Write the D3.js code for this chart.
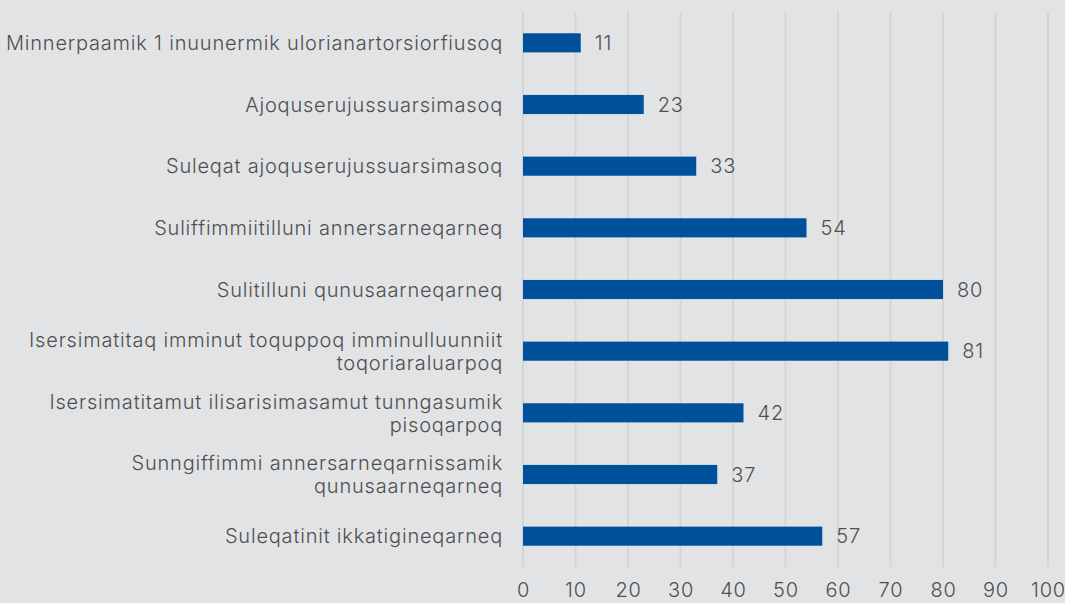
<!DOCTYPE html>
<html lang="kl">
<head>
<meta charset="UTF-8">
<title>Bar Chart</title>
<script src="https://cdn.jsdelivr.net/npm/d3@7"></script>
<style>
  html, body { margin: 0; padding: 0; background: #e2e3e5; }
  svg { display: block; }
  text { font-family: Inter, "Noto Sans", sans-serif; font-size: 20px; font-weight: 300; letter-spacing: 0.8px; fill: #4f4f4f; }
  .grid line { stroke: #d4d5d7; stroke-width: 2; }
  .bar { fill: #00519c; }
</style>
</head>
<body>
<svg id="chart"></svg>
<script>
// categories (each entry is a list of label lines)
const categories = [
  ['Minnerpaamik 1 inuunermik ulorianartorsiorfiusoq'],
  ['Ajoquserujussuarsimasoq'],
  ['Suleqat ajoquserujussuarsimasoq'],
  ['Suliffimmiitilluni annersarneqarneq'],
  ['Sulitilluni qunusaarneqarneq'],
  ['Isersimatitaq imminut toquppoq imminulluunniit', 'toqoriaraluarpoq'],
  ['Isersimatitamut ilisarisimasamut tunngasumik', 'pisoqarpoq'],
  ['Sunngiffimmi annersarneqarnissamik', 'qunusaarneqarneq'],
  ['Suleqatinit ikkatigineqarneq']
]
const values = [11, 23, 33, 54, 80, 81, 42, 37, 57]
const ticks = [0, 10, 20, 30, 40, 50, 60, 70, 80, 90, 100]

const W = 1065, H = 603
const margin = { top: 12, right: 17, bottom: 36, left: 523 }

const svg = d3.select('#chart').attr('width', W).attr('height', H)
const chart = svg.append('g').attr('transform', `translate(${margin.left}, ${margin.top})`)

const WIDTH = W - margin.left - margin.right
const HEIGHT = H - margin.top - margin.bottom

const keys = categories.map((c, i) => i)

const xScale = d3.scaleLinear().domain([0, 100]).range([0, WIDTH])
const yScale = d3.scaleBand().domain(keys).range([0, HEIGHT]).paddingInner(0.69).paddingOuter(0.345)

// grid
const grid = chart.append('g').attr('class', 'grid')
grid.selectAll('line')
  .data(ticks)
  .enter()
  .append('line')
  .attr('x1', d => xScale(d))
  .attr('x2', d => xScale(d))
  .attr('y1', 0)
  .attr('y2', HEIGHT)

// x axis labels
const xAxis = d3.axisBottom(xScale).tickValues(ticks).tickSize(0).tickPadding(16)
const xAxisGroup = chart.append('g')
  .attr('transform', `translate(0, ${HEIGHT})`)
  .call(xAxis)
xAxisGroup.select('.domain').remove()
xAxisGroup.selectAll('text').attr('font-size', null).attr('font-family', null)

// bars
chart.selectAll('.bar')
  .data(values)
  .enter()
  .append('rect')
  .attr('class', 'bar')
  .attr('x', 0)
  .attr('y', (d, i) => yScale(i))
  .attr('width', d => xScale(d))
  .attr('height', yScale.bandwidth())

// value labels
chart.selectAll('.value')
  .data(values)
  .enter()
  .append('text')
  .attr('class', 'value')
  .attr('x', d => xScale(d) + 14)
  .attr('y', (d, i) => yScale(i) + yScale.bandwidth() / 2)
  .attr('dy', '0.36em')
  .text(d => d)

// category labels
const lineH = 23
const labels = chart.selectAll('.cat')
  .data(categories)
  .enter()
  .append('text')
  .attr('class', 'cat')
  .attr('text-anchor', 'end')
  .attr('transform', (d, i) => `translate(-20, ${yScale(i) + yScale.bandwidth() / 2})`)

labels.selectAll('tspan')
  .data(d => d.map((t, j) => ({ t, j, n: d.length })))
  .enter()
  .append('tspan')
  .attr('x', 0)
  .attr('y', d => (d.j - (d.n - 1) / 2) * lineH)
  .attr('dy', '0.36em')
  .text(d => d.t)
</script>
</body>
</html>
